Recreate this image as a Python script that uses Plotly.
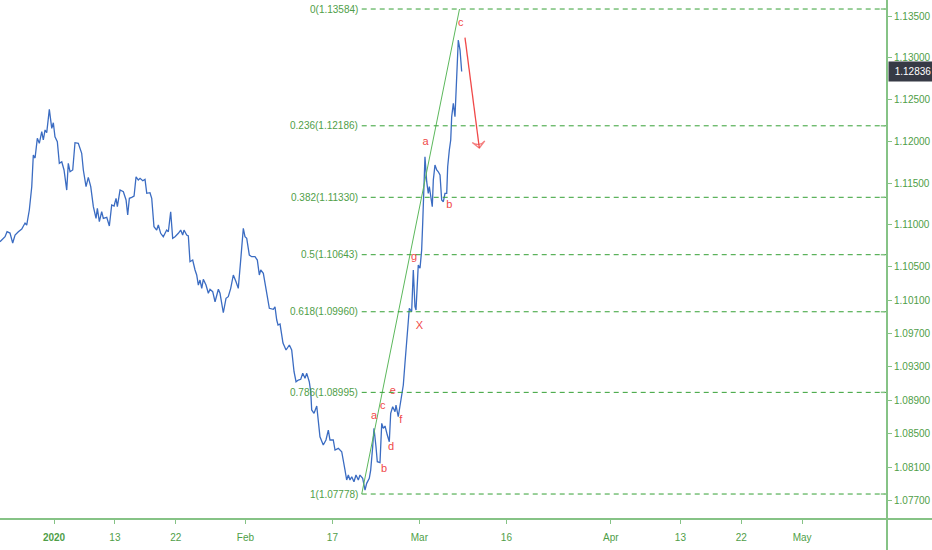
import numpy as np
import pandas as pd
import plotly.graph_objects as go

# ---------------- data ----------------
# position of each close, in trading days counted from 2020-01-02 (weekends / holidays skipped)
day_pos = [-6.21, -5.63, -5.40, -5.06, -4.75, -4.48, -4.10, -3.71, -3.33, -3.14,
           -2.84, -2.56, -2.38, -2.18, -1.92, -1.69, -1.41, -1.23, -1.03, -0.84,
           -0.54, -0.26, -0.08, 0.11, 0.38, 0.61, 0.89, 1.15, 1.46, 1.64,
           1.84, 2.15, 2.41, 2.79, 3.18, 3.37, 3.68, 3.94, 4.22, 4.52,
           4.83, 4.98, 5.21, 5.48, 5.67, 6.06, 6.36, 6.63, 6.90, 7.13,
           7.28, 7.59, 7.97, 8.28, 8.47, 8.66, 8.93, 9.20, 9.43, 9.69,
           9.89, 10.20, 10.46, 10.66, 11.03, 11.23, 11.49, 11.80, 11.99, 12.26,
           12.56, 12.95, 13.14, 13.41, 13.64, 13.91, 14.29, 14.56, 14.79, 14.94,
           15.25, 15.44, 15.63, 15.94, 16.21, 16.40, 16.59, 16.78, 16.98, 17.16,
           17.47, 17.74, 17.93, 18.24, 18.51, 18.89, 19.08, 19.46, 19.77, 20.03,
           20.31, 20.61, 20.92, 21.18, 21.46, 21.76, 21.95, 22.15, 22.45, 22.72,
           23.10, 23.37, 23.60, 23.76, 24.06, 24.25, 24.45, 24.75, 25.21, 25.40,
           25.60, 25.75, 25.98, 26.32, 26.67, 27.05, 27.32, 27.59, 27.82, 28.08,
           28.36, 28.59, 28.85, 29.05, 29.34, 29.51, 29.62, 29.89, 30.20, 30.38,
           30.57, 30.95, 31.26, 31.53, 31.72, 32.10, 32.30, 32.68, 33.07, 33.45,
           33.64, 33.83, 34.02, 34.22, 34.48, 34.71, 34.98, 35.17, 35.48, 35.75,
           35.94, 36.24, 36.40, 36.63, 36.78, 37.01, 37.16, 37.47, 37.67, 37.85,
           38.05, 38.31, 38.54, 38.70, 38.93, 39.20, 39.31, 39.57, 39.77, 39.97,
           40.15, 40.34, 40.54, 40.72, 40.84, 41.11, 41.30, 41.49, 41.61, 41.76,
           41.87, 42.07, 42.26, 42.38, 42.53, 42.64, 42.84, 43.02, 43.14, 43.30,
           43.48, 43.60, 43.79, 43.99, 44.17, 44.37, 44.56, 44.75, 44.94, 45.14,
           45.25, 45.44, 45.60, 45.71, 45.90, 46.09, 46.29, 46.47, 46.67, 46.86]
close = [1.10798, 1.10858, 1.10918, 1.10902, 1.10783, 1.10879, 1.10918, 1.10950, 1.11022, 1.10998,
         1.11178, 1.11457, 1.11836, 1.11800, 1.12036, 1.11976, 1.12115, 1.12016, 1.12136, 1.12103,
         1.12383, 1.12156, 1.12223, 1.12055, 1.11995, 1.11737, 1.11756, 1.11657, 1.11417, 1.11737,
         1.11636, 1.11657, 1.11984, 1.11976, 1.11857, 1.11657, 1.11457, 1.11569, 1.11457, 1.11218,
         1.11078, 1.11198, 1.11038, 1.11157, 1.11078, 1.11090, 1.10986, 1.11238, 1.11226, 1.11318,
         1.11218, 1.11417, 1.11397, 1.11298, 1.11118, 1.11318, 1.11330, 1.11345, 1.11576, 1.11537,
         1.11557, 1.11529, 1.11545, 1.11378, 1.11385, 1.11318, 1.10978, 1.10938, 1.10998, 1.10899,
         1.10858, 1.10938, 1.10918, 1.11157, 1.10839, 1.10858, 1.10899, 1.10938, 1.10879, 1.10938,
         1.10879, 1.10867, 1.10559, 1.10579, 1.10460, 1.10400, 1.10280, 1.10340, 1.10240, 1.10348,
         1.10280, 1.10181, 1.10229, 1.10200, 1.10080, 1.10229, 1.10181, 1.09948, 1.10121, 1.10140,
         1.10240, 1.10400, 1.10319, 1.10240, 1.10579, 1.10959, 1.10858, 1.10839, 1.10639, 1.10619,
         1.10619, 1.10579, 1.10400, 1.10460, 1.10420, 1.10300, 1.10140, 1.10001, 1.09989, 1.10020,
         1.09861, 1.09801, 1.09813, 1.09586, 1.09502, 1.09562, 1.09502, 1.09242, 1.09122, 1.09143,
         1.09151, 1.09223, 1.09163, 1.09223, 1.09122, 1.09003, 1.08784, 1.08744, 1.08832, 1.08664,
         1.08464, 1.08365, 1.08425, 1.08544, 1.08425, 1.08425, 1.08305, 1.08325, 1.08284, 1.08065,
         1.07946, 1.08005, 1.07946, 1.07985, 1.07925, 1.08005, 1.07946, 1.08005, 1.07966, 1.07826,
         1.07906, 1.07966, 1.08065, 1.08344, 1.08565, 1.08344, 1.08165, 1.08153, 1.08624, 1.08565,
         1.08592, 1.08484, 1.08404, 1.08744, 1.08823, 1.08763, 1.08843, 1.08703, 1.08843, 1.08983,
         1.09083, 1.09343, 1.09681, 1.09841, 1.10001, 1.09960, 1.10460, 1.10020, 1.09981, 1.10340,
         1.10519, 1.10480, 1.10699, 1.11022, 1.11378, 1.11816, 1.11517, 1.11378, 1.11457, 1.11357,
         1.11218, 1.11537, 1.11716, 1.11657, 1.11636, 1.11597, 1.11298, 1.11277, 1.11378, 1.11378,
         1.11696, 1.11896, 1.12016, 1.12295, 1.12455, 1.12295, 1.12814, 1.13213, 1.13093, 1.12836]

fib_ratios = ["0", "0.236", "0.382", "0.5", "0.618", "0.786", "1"]
fib_prices = [1.13584, 1.12186, 1.11330, 1.10643, 1.09960, 1.08995, 1.07778]
fib_start_day = 35.37

swing_days = [35.37, 46.61]
swing_prices = [1.07778, 1.13584]

wave_labels = ["c", "a", "b", "g", "X", "e", "a", "c", "f", "d", "b"]
wave_days = [46.74, 42.72, 45.44, 41.38, 41.99, 38.93, 36.78, 37.78, 39.85, 38.74, 37.93]
wave_prices = [1.13413, 1.11984, 1.11238, 1.10615, 1.09781, 1.09003, 1.08712, 1.08832, 1.08656, 1.08341, 1.08078]

arrow_days = [47.24, 48.89]
arrow_prices = [1.13241, 1.11920]

last_price = 1.12836

y_ticks = [1.135, 1.130, 1.125, 1.120, 1.115, 1.110, 1.105, 1.101, 1.097, 1.093, 1.089, 1.085, 1.081, 1.077]
x_tick_dates = ["2020-01-02", "2020-01-13", "2020-01-22", "2020-02-03", "2020-02-17", "2020-03-02",
                "2020-03-16", "2020-04-01", "2020-04-13", "2020-04-22", "2020-05-01"]
x_tick_labels = ["<b>2020</b>", "13", "22", "Feb", "17", "Mar", "16", "Apr", "13", "22", "May"]
holidays = ["2019-12-25", "2020-01-01"]
view_days = [-6.21, 95.75]
y_range = [1.07479, 1.13692]

# ---------------- helpers ----------------
HOL = np.array(holidays, dtype="datetime64[D]")


def day_to_ts(d):
    k = int(np.floor(d))
    frac = d - k
    day = np.busday_offset(np.datetime64("2020-01-02"), k, roll="forward", holidays=HOL)
    return pd.Timestamp(day) + pd.Timedelta(hours=24 * frac)


FONT = "Liberation Sans, Arial, sans-serif"
GREEN_TXT = "#4f9e48"
GREEN_AX = "#86c386"
FIB_COL = "#35a035"
BLUE = "#3b6cc2"
RED = "#f04848"

fig = go.Figure()

# price line
fig.add_trace(go.Scatter(
    x=[day_to_ts(d) for d in day_pos], y=close, mode="lines",
    line=dict(color=BLUE, width=1.3), hoverinfo="skip", showlegend=False))

# swing (trend) line
fig.add_trace(go.Scatter(
    x=[day_to_ts(d) for d in swing_days], y=swing_prices, mode="lines",
    line=dict(color="#5cb85c", width=1), hoverinfo="skip", showlegend=False))

# red arrow
fig.add_trace(go.Scatter(
    x=[day_to_ts(d) for d in arrow_days], y=arrow_prices, mode="lines+markers",
    line=dict(color=RED, width=1.3),
    marker=dict(symbol="arrow-wide-open", size=[0, 9], angleref="previous",
                color=RED, line=dict(color=RED, width=1.3)),
    hoverinfo="skip", showlegend=False))

# wave letters
fig.add_trace(go.Scatter(
    x=[day_to_ts(d) for d in wave_days], y=wave_prices, mode="text", text=wave_labels,
    textfont=dict(color=RED, size=11, family=FONT),
    hoverinfo="skip", showlegend=False))

x0 = day_to_ts(fib_start_day)
x_end = day_to_ts(view_days[1])
for r, p in zip(fib_ratios, fib_prices):
    fig.add_shape(type="line", xref="x", yref="y", x0=x0, x1=x_end, y0=p, y1=p,
                  line=dict(color=FIB_COL, width=1, dash="5px,4px"))
    fig.add_annotation(x=x0, y=p, xref="x", yref="y", text=f"{r}({p:.5f})",
                       showarrow=False, xanchor="right", yanchor="middle", xshift=-2,
                       font=dict(color=GREEN_TXT, size=10, family=FONT))
    # small marker on the price scale
    fig.add_shape(type="line", xref="paper", yref="y", x0=0.993, x1=0.9975, y0=p, y1=p,
                  line=dict(color=GREEN_AX, width=1.5))

# axis lines spanning the full canvas
fig.add_shape(type="line", xref="paper", yref="paper", x0=0, x1=1.06, y0=0, y1=0,
              line=dict(color=GREEN_AX, width=2))
fig.add_shape(type="line", xref="paper", yref="paper", x0=1, x1=1, y0=-0.07, y1=1,
              line=dict(color=GREEN_AX, width=2))

# last price label
fig.add_annotation(xref="paper", yref="y", x=1, y=last_price, text=f"{last_price:.5f}",
                   showarrow=False, xanchor="left", yanchor="middle", xshift=1,
                   bgcolor="#363a45", font=dict(color="white", size=10, family=FONT),
                   width=44, height=15, align="center", borderpad=2)

fig.update_layout(
    width=932, height=550,
    margin=dict(l=0, r=45, t=0, b=31),
    paper_bgcolor="white", plot_bgcolor="white",
    showlegend=False,
    xaxis=dict(
        type="date", automargin=False,
        range=[day_to_ts(view_days[0]), day_to_ts(view_days[1])],
        rangebreaks=[dict(bounds=["sat", "mon"]), dict(values=holidays)],
        tickvals=[pd.Timestamp(d) for d in x_tick_dates], ticktext=x_tick_labels,
        ticks="outside", ticklen=4, tickcolor=GREEN_AX, tickwidth=1,
        ticklabelstandoff=5,
        showgrid=False, zeroline=False, showline=False,
        tickfont=dict(color=GREEN_TXT, size=10, family=FONT),
    ),
    yaxis=dict(
        side="right", range=y_range, automargin=False,
        tickvals=y_ticks, ticktext=[f"{v:.5f}" for v in y_ticks],
        ticks="outside", ticklen=4, tickcolor=GREEN_AX, tickwidth=1,
        showgrid=False, zeroline=False, showline=False,
        tickfont=dict(color=GREEN_TXT, size=10, family=FONT),
    ),
)

fig.write_html("out.html", config={"displayModeBar": False},
               post_script="document.body.style.margin='0';document.body.style.overflow='hidden';")
